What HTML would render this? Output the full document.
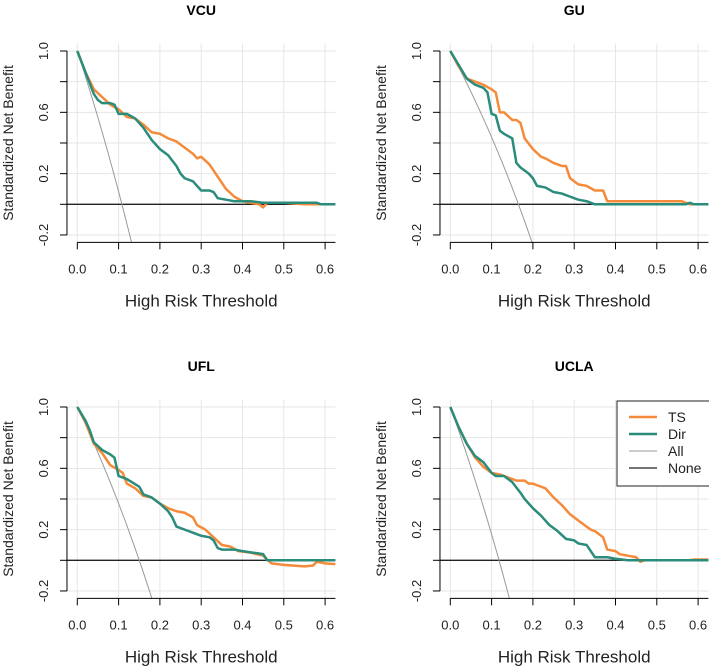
<!DOCTYPE html>
<html><head><meta charset="utf-8"><style>
html,body{margin:0;padding:0;background:#fff;overflow:hidden;width:709px;height:669px;}
svg{display:block;font-family:"Liberation Sans",Arial,sans-serif;}
</style></head><body>
<svg id="c" width="709" height="669" viewBox="0 0 709 669"></svg>
<script>
const panelNames = ["VCU","GU","UFL","UCLA"];
const prevalence = [0.108, 0.165, 0.15, 0.118];
const tsX = [
 [0,0.02,0.04,0.06,0.08,0.10,0.12,0.14,0.16,0.18,0.20,0.22,0.24,0.26,0.28,0.29,0.30,0.32,0.34,0.36,0.38,0.40,0.42,0.44,0.45,0.46,0.50,0.55,0.60,0.625],
 [0,0.02,0.04,0.06,0.08,0.10,0.11,0.12,0.13,0.15,0.16,0.17,0.18,0.20,0.22,0.23,0.25,0.27,0.28,0.29,0.31,0.33,0.35,0.37,0.38,0.45,0.47,0.50,0.56,0.58,0.625],
 [0,0.02,0.04,0.06,0.08,0.10,0.11,0.12,0.14,0.16,0.18,0.20,0.22,0.24,0.26,0.28,0.29,0.31,0.33,0.35,0.37,0.39,0.42,0.45,0.47,0.50,0.55,0.57,0.58,0.60,0.625],
 [0,0.02,0.04,0.06,0.08,0.10,0.12,0.14,0.16,0.18,0.19,0.20,0.23,0.25,0.27,0.29,0.31,0.33,0.34,0.35,0.37,0.38,0.40,0.41,0.43,0.45,0.46,0.47,0.55,0.58,0.59,0.625]
];
const tsY = [
 [1.0,0.86,0.75,0.70,0.65,0.62,0.57,0.56,0.52,0.47,0.46,0.43,0.41,0.37,0.33,0.30,0.31,0.26,0.18,0.10,0.05,0.02,0.01,0.0,-0.02,0.01,0.01,0.0,0.0,0.0],
 [1.0,0.90,0.82,0.80,0.78,0.75,0.73,0.60,0.60,0.55,0.55,0.53,0.43,0.36,0.31,0.30,0.27,0.25,0.25,0.17,0.13,0.12,0.09,0.09,0.02,0.02,0.02,0.02,0.02,0.0,0.0],
 [1.0,0.90,0.76,0.70,0.62,0.59,0.57,0.50,0.47,0.42,0.41,0.37,0.34,0.32,0.31,0.28,0.23,0.20,0.15,0.10,0.09,0.06,0.05,0.03,-0.02,-0.03,-0.04,-0.035,-0.01,-0.02,-0.025],
 [1.0,0.87,0.76,0.67,0.61,0.57,0.56,0.54,0.52,0.52,0.50,0.50,0.47,0.41,0.36,0.30,0.26,0.22,0.20,0.19,0.15,0.07,0.06,0.04,0.03,0.02,-0.01,0.0,0.0,0.0,0.005,0.005]
];
const dirX = [
 [0,0.02,0.04,0.05,0.06,0.08,0.09,0.10,0.12,0.14,0.16,0.18,0.20,0.22,0.24,0.25,0.26,0.28,0.30,0.32,0.33,0.34,0.36,0.38,0.42,0.45,0.50,0.58,0.59,0.625],
 [0,0.04,0.06,0.08,0.09,0.10,0.11,0.12,0.13,0.15,0.16,0.17,0.19,0.20,0.21,0.23,0.25,0.27,0.29,0.31,0.33,0.35,0.45,0.57,0.58,0.59,0.625],
 [0,0.02,0.03,0.04,0.06,0.08,0.09,0.10,0.12,0.15,0.16,0.18,0.20,0.22,0.23,0.24,0.26,0.28,0.30,0.32,0.33,0.34,0.35,0.38,0.40,0.45,0.46,0.50,0.60,0.625],
 [0,0.02,0.04,0.06,0.08,0.10,0.11,0.13,0.15,0.17,0.18,0.20,0.22,0.24,0.26,0.28,0.30,0.31,0.33,0.34,0.35,0.38,0.40,0.43,0.45,0.625]
];
const dirY = [
 [1.0,0.86,0.72,0.68,0.66,0.66,0.65,0.59,0.59,0.56,0.50,0.42,0.36,0.32,0.25,0.20,0.17,0.15,0.09,0.09,0.08,0.04,0.03,0.02,0.02,0.01,0.01,0.01,0.0,0.0],
 [1.0,0.82,0.78,0.76,0.73,0.59,0.58,0.48,0.46,0.43,0.27,0.24,0.20,0.17,0.12,0.11,0.08,0.07,0.05,0.03,0.02,0.0,0.0,0.0,0.01,0.0,0.0],
 [1.0,0.91,0.85,0.77,0.72,0.69,0.67,0.55,0.53,0.48,0.43,0.41,0.37,0.32,0.28,0.22,0.20,0.18,0.16,0.15,0.13,0.08,0.07,0.07,0.06,0.04,0.0,0.0,0.0,0.0],
 [1.0,0.87,0.76,0.68,0.64,0.57,0.55,0.55,0.51,0.44,0.40,0.34,0.29,0.23,0.19,0.14,0.13,0.11,0.10,0.06,0.02,0.02,0.01,0.0,0.0,0.0]
];
const xTicks = [0,0.1,0.2,0.3,0.4,0.5,0.6];
const yTickLabels = ["1.0","0.6","0.2","-0.2"];
const yTickVals = [1.0,0.6,0.2,-0.2];
const yGrid = [1.0,0.8,0.6,0.4,0.2,0.0,-0.2];
const legendLabels = ["TS","Dir","All","None"];

const NS="http://www.w3.org/2000/svg";
const svg=document.getElementById('c');
function mk(tag,attrs,parent,txt){const e=document.createElementNS(NS,tag);for(const k in attrs)e.setAttribute(k,attrs[k]);if(txt!==undefined)e.textContent=txt;(parent||svg).appendChild(e);return e;}
const ORANGE="#F58B3A", TEAL="#2A8C7B";
const offsets=[[0,0],[373,0],[0,356],[373,356]];
panelNames.forEach((name,p)=>{
  const ox=offsets[p][0], oy=offsets[p][1];
  const x0=77.3+ox, xs=413, y0=204.3+oy, ys=153.3;
  const X=v=>x0+v*xs, Y=v=>y0-v*ys;
  const left=X(-0.025), right=Math.min(X(0.625),709), top=Y(1.048), bot=Y(-0.248);
  const g=mk('g',{},svg);
  
  
  const cid='clip'+p;
  const cp=mk('clipPath',{id:cid},g);mk('rect',{x:left,y:top,width:right-left,height:bot-top},cp);
  xTicks.forEach(t=>{const l=mk('line',{x1:X(t),x2:X(t),y1:top,y2:bot,stroke:'#e6e6e6','stroke-width':1},g);});
  yGrid.forEach(t=>{const l=mk('line',{x1:left,x2:right,y1:Y(t),y2:Y(t),stroke:'#e6e6e6','stroke-width':1},g);});
  const pl=mk('g',{'clip-path':'url(#'+cid+')'},g);
  const none=mk('line',{x1:left,x2:right,y1:Y(0),y2:Y(0),stroke:'#222','stroke-width':1.3},pl);
  
  const pr=prevalence[p];let pts=[];
  for(let t=0;t<=0.3;t+=0.005){pts.push(X(t)+','+Y(1-(1-pr)/pr*t/(1-t)));}
  const all=mk('polyline',{points:pts.join(' '),fill:'none',stroke:'#999','stroke-width':1},pl);
  
  const ts=mk('polyline',{points:tsX[p].map((v,i)=>X(v)+','+Y(tsY[p][i])).join(' '),fill:'none',stroke:ORANGE,'stroke-width':2.5,'stroke-linejoin':'round'},pl);
  
  const dr=mk('polyline',{points:dirX[p].map((v,i)=>X(v)+','+Y(dirY[p][i])).join(' '),fill:'none',stroke:TEAL,'stroke-width':2.5,'stroke-linejoin':'round'},pl);
  
  const ax=left;
  const ya=mk('g',{},g);
  mk('line',{x1:ax,x2:ax,y1:Y(1),y2:Y(-0.2),stroke:'#000','stroke-width':1},ya);
  yGrid.forEach(t=>mk('line',{x1:ax-7,x2:ax,y1:Y(t),y2:Y(t),stroke:'#000','stroke-width':1},ya));
  yTickVals.forEach((t,i)=>{const tx=mk('text',{x:0,y:0,transform:`translate(${ax-19},${Y(t)}) rotate(-90)`,'text-anchor':'middle','font-size':13,fill:'#222'},ya,yTickLabels[i]);});
  const yt=mk('text',{transform:`translate(${ax-54},${(Y(1)+Y(-0.2))/2}) rotate(-90)`,'text-anchor':'middle','font-size':14,fill:'#222'},g,'Standardized Net Benefit');
  
  const xa=mk('g',{},g);
  const ay=bot;
  mk('line',{x1:X(0),x2:right,y1:ay,y2:ay,stroke:'#000','stroke-width':1},xa);
  xTicks.forEach(t=>{mk('line',{x1:X(t),x2:X(t),y1:ay,y2:ay+7,stroke:'#000','stroke-width':1},xa);
    const tx=mk('text',{x:X(t),y:ay+31,'text-anchor':'middle','font-size':13,fill:'#222'},xa,t.toFixed(1));});
  const xt=mk('text',{x:(X(-0.025)+X(0.625))/2,y:ay+64,'text-anchor':'middle','font-size':17,fill:'#222'},g,'High Risk Threshold');
  
  const ti=mk('text',{x:(X(-0.025)+X(0.625))/2,y:oy+15,'text-anchor':'middle','font-size':14,'font-weight':'bold',fill:'#000'},g,name);
  
});
const lg=mk('g',{},svg);


mk('rect',{x:617,y:401,width:93,height:85,fill:'#fff',stroke:'#222','stroke-width':1},lg);
const lcol=[ORANGE,TEAL,'#999','#222'], lw=[2.5,2.5,1,1.3];
legendLabels.forEach((t,i)=>{const y=417+i*17;
  const e=mk('g',{},lg);
  
  
  mk('line',{x1:629,x2:657,y1:y,y2:y,stroke:lcol[i],'stroke-width':lw[i]},e);
  mk('text',{x:668,y:y+5,'font-size':14,fill:'#222'},e,t);
});
</script>
</body></html>
